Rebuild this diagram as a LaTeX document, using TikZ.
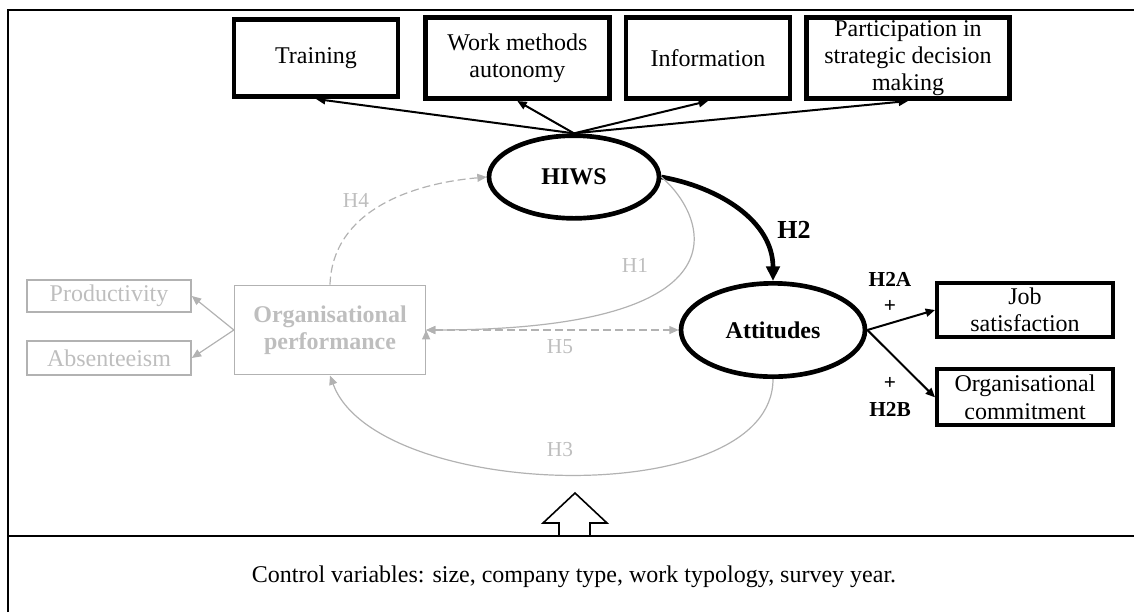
\documentclass[tikz,border=0pt]{standalone}
\usepackage{fontspec}
\setmainfont{Liberation Serif}
\usepackage{tikz}
\usetikzlibrary{positioning,shapes.geometric,arrows.meta}
\definecolor{lightgrey}{RGB}{178,178,178}
\definecolor{textgrey}{RGB}{190,190,190}

\begin{document}
\fontsize{18}{20.5}\selectfont
\begin{tikzpicture}[x=0.75pt,y=-0.75pt,
		dimbox/.style={shape=rectangle,draw,line width=3.5pt,align=center,inner sep=0pt},
		latent/.style={shape=ellipse,draw,line width=3.5pt,inner sep=0pt,font=\bfseries},
		greybox/.style={shape=rectangle,draw=lightgrey,line width=1.2pt,text=textgrey,align=center,inner sep=0pt},
		hyp/.style={text=textgrey,font=\fontsize{16}{18}\selectfont},
		sign/.style={font=\bfseries\fontsize{16}{18}\selectfont},
		blackhead/.style={-{Triangle[length=7pt,width=6pt]}},
		greyhead/.style={-{Triangle[length=7pt,width=6pt]}},
		greydash/.style={dash pattern=on 6pt off 3pt}]
		\useasboundingbox (0,0) rectangle (1134,612);
		\begin{scope}
			\node(hiws) [latent,minimum width=127.5pt,minimum height=62pt] at (574,177) {HIWS};
			\node(att) [latent,minimum width=138pt,minimum height=70pt] at (773,330) {Attitudes};
			\node(train) [dimbox,minimum width=123pt,minimum height=58pt] at (316,58) {Training};
			\node(work) [right=17pt of train,dimbox,minimum width=138pt,minimum height=61pt] {Work methods\\autonomy};
			\node(info) [right=9pt of work,dimbox,minimum width=123pt,minimum height=61pt] {Information};
			\node(part) [right=9pt of info,dimbox,minimum width=152pt,minimum height=61pt] {Participation in\\strategic decision\\making};
			\node(job) [dimbox,line width=3pt,minimum width=132pt,minimum height=41pt] at (1025,310) {Job\\satisfaction};
			\node(commit) [below=21pt of job,dimbox,line width=3pt,minimum width=132pt,minimum height=42pt] {Organisational\\commitment};
			\node(perf) [greybox,minimum width=143pt,minimum height=67pt,font=\bfseries] at (330,330) {Organisational\\performance};
			\node(prod) [greybox,minimum width=123pt,minimum height=24pt] at (109,296) {Productivity};
			\node(absent) [greybox,minimum width=123pt,minimum height=25.5pt] at (109,358) {Absenteeism};
			\path[blackhead,line width=1.5pt]
				(hiws.north) edge (train.south)
				(hiws.north) edge (work.south)
				(hiws.north) edge (info.south)
				(hiws.north) edge (part.south)
				(att.east) edge (job.west)
				(att.east) edge (commit.west);
			\path[-{Triangle[length=11pt,width=10pt]},line width=3.5pt]
				(hiws.east) edge [out=-10,in=90] (att.north);
			\path[greyhead,draw=lightgrey,line width=0.9pt]
				(perf.west) edge [lightgrey] (prod.east)
				(perf.west) edge [lightgrey] (absent.east)
				(hiws.east) edge [lightgrey,out=-40,in=0,out distance=42pt,in distance=250pt] (perf.east)
				(att.south) edge [lightgrey,out=-90,in=-70,looseness=0.77] (perf.south)
				(perf.north) edge [lightgrey,greydash,out=88,in=185] (hiws.west)
				(perf.east) edge [lightgrey,greydash,{Triangle[length=7pt,width=6pt]}-{Triangle[length=7pt,width=6pt]}] (att.west);
			\node(h1) [hyp] at (635,265) {H1};
			\node(h3) [hyp] at (560,450) {H3};
			\node(h4) [hyp] at (356,200) {H4};
			\node(h5) [hyp] at (560,347) {H5};
			\node(h2) [font=\bfseries\fontsize{19.5}{21}\selectfont] at (794,230) {H2};
			\node(h2a) [sign] at (890,279) {H2A};
			\node(plusa) [sign] at (890,306) {+};
			\node(plusb) [sign] at (890,383) {+};
			\node(h2b) [sign] at (890,409) {H2B};
			\node(ctrl) at (574,577) {Control variables: size, company type, work typology, survey year.};
		\end{scope}
		\draw[line width=1.5pt] (8,612) -- (8,10) -- (1134,10);
		\draw[line width=1.5pt] (8,536) -- (1134,536);
		\draw[line width=1.2pt,line join=miter] (559,536) -- (559,523) -- (543,523) -- (575,493) -- (607,523) -- (590,523) -- (590,536);
	\end{tikzpicture}
\end{document}
